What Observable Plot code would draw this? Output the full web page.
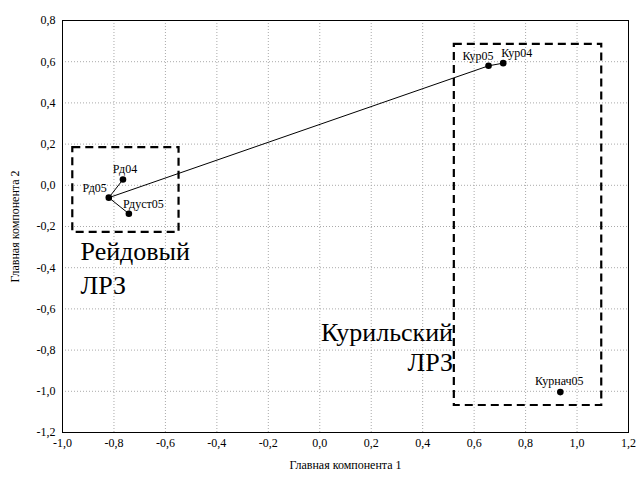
<!DOCTYPE html>
<html><head><meta charset="utf-8">
<script src="https://cdn.jsdelivr.net/npm/d3@7"></script>
<script src="https://cdn.jsdelivr.net/npm/@observablehq/plot@0.6"></script>
<style>body{margin:0;background:#fff;font-family:'Liberation Serif',serif}
svg text{font-family:'Liberation Serif','Times New Roman','DejaVu Serif',serif}</style>
</head><body><div id="chart"></div>
<script>
// Data
const names = ["Рд05", "Рд04", "Рдуст05", "Кур05", "Кур04", "Курнач05"];
const pc1 = [-0.82, -0.765, -0.742, 0.656, 0.713, 0.935];
const pc2 = [-0.06, 0.028, -0.138, 0.58, 0.593, -1.004];
const edgeFrom = ["Рд05", "Рд05", "Рд05", "Кур05"];
const edgeTo = ["Рд04", "Рдуст05", "Кур05", "Кур04"];
const boxNames = ["Рейдовый ЛРЗ", "Курильский ЛРЗ"];
const boxX1 = [-0.96, 0.523];
const boxX2 = [-0.547, 1.096];
const boxY1 = [-0.229, -1.069];
const boxY2 = [0.183, 0.684];
const groupLines = ["Рейдовый", "ЛРЗ", "Курильский", "ЛРЗ"];
const groupX = [-0.93, -0.93, 0.518, 0.518];
const groupY = [-0.321, -0.486, -0.715, -0.86];
const xTicks = [-1.0, -0.8, -0.6, -0.4, -0.2, 0.0, 0.2, 0.4, 0.6, 0.8, 1.0, 1.2];
const yTicks = [-1.2, -1.0, -0.8, -0.6, -0.4, -0.2, 0.0, 0.2, 0.4, 0.6, 0.8];

const FONT = "Liberation Serif, Times New Roman, DejaVu Serif, serif";
const pts = names.map((n, i) => ({name: n, x: pc1[i], y: pc2[i]}));
const byName = Object.fromEntries(pts.map(p => [p.name, p]));
const edges = edgeFrom.map((f, i) => ({a: byName[f], b: byName[edgeTo[i]]}));
const boxes = boxNames.map((n, i) => ({name: n, x1: boxX1[i], x2: boxX2[i], y1: boxY1[i], y2: boxY2[i]}));
const groups = groupLines.map((t, i) => ({t, x: groupX[i], y: groupY[i], anchor: i < 2 ? "start" : "end"}));
const fmt = d => d.toFixed(1).replace(".", ",");

const labelStyle = {
  "Рд05": {textAnchor: "end", dx: -2, dy: -10},
  "Рд04": {textAnchor: "middle", dx: 2, dy: -10},
  "Рдуст05": {textAnchor: "start", dx: -6, dy: -10},
  "Кур05": {textAnchor: "end", dx: 5, dy: -10},
  "Кур04": {textAnchor: "start", dx: -2, dy: -10},
  "Курнач05": {textAnchor: "middle", dx: -1, dy: -11}
};

const marks = [
  Plot.gridX(xTicks, {stroke: "#aaa", strokeOpacity: 1, strokeDasharray: "1,2"}),
  Plot.gridY(yTicks, {stroke: "#aaa", strokeOpacity: 1, strokeDasharray: "1,2"}),
  Plot.rect(boxes, {x1: "x1", x2: "x2", y1: "y1", y2: "y2", fill: "none", stroke: "black", strokeWidth: 2.2, strokeDasharray: "8,5"}),
  Plot.link(edges, {x1: d => d.a.x, y1: d => d.a.y, x2: d => d.b.x, y2: d => d.b.y, stroke: "black", strokeWidth: 1}),
  Plot.dot(pts, {x: "x", y: "y", r: 3.3, fill: "black", stroke: "none"}),
  ...pts.map(p => Plot.text([p], {x: "x", y: "y", text: "name", fontSize: 12, fontFamily: FONT, fill: "black", ...labelStyle[p.name]})),
  Plot.text(groups.filter(g => g.anchor === "start"), {x: "x", y: "y", text: "t", textAnchor: "start", fontSize: 26, fontFamily: FONT, fill: "black"}),
  Plot.text(groups.filter(g => g.anchor === "end"), {x: "x", y: "y", text: "t", textAnchor: "end", fontSize: 26, fontFamily: FONT, fill: "black"}),
  Plot.frame({stroke: "black", strokeWidth: 1})
];

const chart = Plot.plot({
  width: 637,
  height: 477,
  marginLeft: 62,
  marginRight: 9,
  marginTop: 20,
  marginBottom: 45,
  style: {fontFamily: FONT, fontSize: "12px"},
  x: {domain: [-1.0, 1.2], ticks: xTicks, tickFormat: fmt, tickSize: 0, tickPadding: 6, label: "Главная компонента 1", labelAnchor: "center", labelOffset: 36, labelArrow: "none"},
  y: {domain: [-1.2, 0.8], ticks: yTicks, tickFormat: fmt, tickSize: 0, tickPadding: 7, label: "Главная компонента 2", labelAnchor: "center", labelOffset: 52, labelArrow: "none"},
  marks
});
chart.setAttribute("font-family", FONT);
chart.setAttribute("font-size", "12");
chart.querySelectorAll("g").forEach(g => {
  if (g.getAttribute("font-family")) g.setAttribute("font-family", FONT);
  if (g.getAttribute("font-size") === "10") g.setAttribute("font-size", "12");
});
chart.querySelectorAll("text").forEach(t => {
  t.setAttribute("font-family", FONT);
});
document.getElementById("chart").appendChild(chart);
</script>
</body></html>
